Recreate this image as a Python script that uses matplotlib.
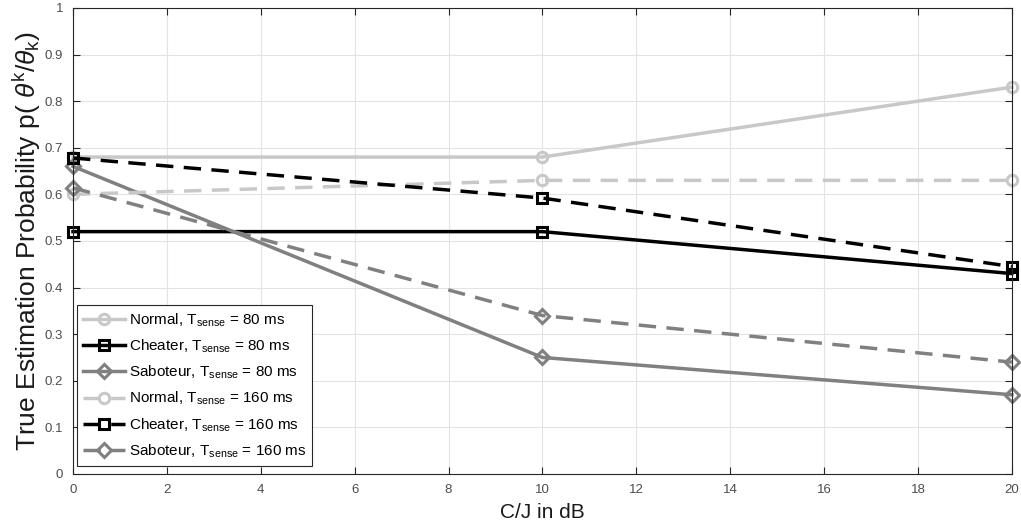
import matplotlib
matplotlib.use("Agg")
import matplotlib.pyplot as plt

plt.rcParams['font.family'] = ['Liberation Sans', 'DejaVu Sans']
plt.rcParams['mathtext.fontset'] = 'custom'
plt.rcParams['mathtext.rm'] = 'Liberation Sans'
plt.rcParams['mathtext.it'] = 'Liberation Sans:italic'

x = [0, 10, 20]
normal_80 = [0.68, 0.68, 0.83]
cheater_80 = [0.52, 0.52, 0.43]
saboteur_80 = [0.66, 0.25, 0.17]
normal_160 = [0.60, 0.63, 0.63]
cheater_160 = [0.678, 0.592, 0.445]
saboteur_160 = [0.614, 0.34, 0.24]

labels = [r'Normal, T$_{\mathrm{sense}}$ = 80 ms',
          r'Cheater, T$_{\mathrm{sense}}$ = 80 ms',
          r'Saboteur, T$_{\mathrm{sense}}$ = 80 ms',
          r'Normal, T$_{\mathrm{sense}}$ = 160 ms',
          r'Cheater, T$_{\mathrm{sense}}$ = 160 ms',
          r'Saboteur, T$_{\mathrm{sense}}$ = 160 ms']

c_norm = '#c8c8c8'
c_cheat = '#000000'
c_sab = '#808080'

fig = plt.figure(figsize=(10.21, 5.27), dpi=100)
ax = fig.add_axes([0.0715, 0.1006, 0.9195, 0.8844])

series = [
    (normal_80, c_norm, 'o', '-'),
    (cheater_80, c_cheat, 's', '-'),
    (saboteur_80, c_sab, 'D', '-'),
    (normal_160, c_norm, 'o', '--'),
    (cheater_160, c_cheat, 's', '--'),
    (saboteur_160, c_sab, 'D', '--'),
]
for (vals, col, mk, ls), lab in zip(series, labels):
    ax.plot(x, vals, color=col, linestyle=ls, linewidth=2.5, marker=mk,
            markersize=7.5 if mk != 'D' else 7, markerfacecolor='none',
            markeredgewidth=2.2, markeredgecolor=col, label=lab,
            dashes=(5, 3) if ls == '--' else (None, None), clip_on=False)

ax.set_xlim(0, 20)
ax.set_ylim(0, 1)
ax.set_xticks(range(0, 21, 2))
ax.set_yticks([i / 10 for i in range(11)])
ax.set_yticklabels(['0', '0.1', '0.2', '0.3', '0.4', '0.5', '0.6', '0.7', '0.8', '0.9', '1'])
ax.grid(True, color='#e3e3e3', linewidth=0.8)
ax.set_axisbelow(True)
ax.tick_params(direction='in', length=5, top=True, right=True, labelsize=9.5,
               colors='#262626', labelcolor='#4d4d4d', pad=7)
for s in ax.spines.values():
    s.set_color('#262626')
    s.set_linewidth(0.8)

ax.set_xlabel('C/J in dB', fontsize=15, color='#1a1a1a', labelpad=5)
ax.set_ylabel(r'True Estimation Probability p( $\theta^{\mathrm{k}}/\theta_{\mathrm{k}}$)',
              fontsize=19, color='#1a1a1a', labelpad=1)

leg = ax.legend(loc='lower left', bbox_to_anchor=(0.004, 0.017), borderaxespad=0,
                fancybox=False, edgecolor='#262626', framealpha=1, fontsize=11,
                handlelength=2.75, handletextpad=0.25, labelspacing=0.58,
                borderpad=0.4)
leg.get_frame().set_linewidth(0.8)

fig.savefig('out.png', dpi=100)
